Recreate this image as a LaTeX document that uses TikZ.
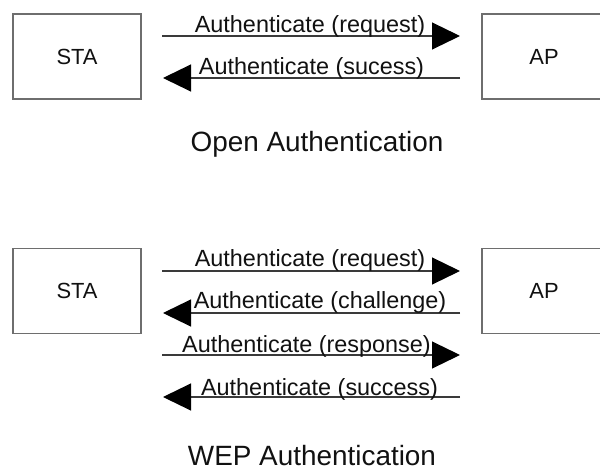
\documentclass[tikz,border=0pt]{standalone}
\usepackage{fontspec}
\setmainfont{Liberation Sans}
\usetikzlibrary{arrows.meta}
\definecolor{boxline}{HTML}{6E6E6E}
\definecolor{msgline}{HTML}{3A3A3A}
\definecolor{ink}{HTML}{111111}
\begin{document}
\begin{tikzpicture}[x=1bp,y=-1bp,
  party/.style={draw=boxline,line width=1.4bp,fill=white,inner sep=0pt,
    minimum height=85bp,text=ink,font=\fontsize{22}{26}\selectfont},
  msg/.style={draw=msgline,line width=1.1bp,
    -{Triangle[length=28bp,width=27bp,color=black]}},
  msglabel/.style={anchor=base,inner sep=0pt,text=ink,
    font=\fontsize{23.5}{28}\selectfont},
  caption/.style={anchor=base,inner sep=0pt,text=ink,
    font=\fontsize{28}{32}\selectfont}]
\useasboundingbox (0,0) rectangle (600,471);

% ---- Open authentication ----
\node[party,minimum width=128bp] (sta1) at (77,56.5) {STA};
\node[party,minimum width=124bp] (ap1) at (544,56.5) {AP};
\coordinate (o1a) at (162,36);  \coordinate (o1b) at (460,36);
\coordinate (o2a) at (460,78);  \coordinate (o2b) at (163,78);
\draw[msg] (o1a) -- (o1b);
\draw[msg] (o2a) -- (o2b);
\node[msglabel] (ol1) at (310,33) {Authenticate (request)};
\node[msglabel] (ol2) at (311.5,75) {Authenticate (sucess)};
\node[caption] (otitle) at (317,152) {Open Authentication};

% ---- WEP authentication ----
\node[party,minimum width=128bp] (sta2) at (77,291) {STA};
\node[party,minimum width=124bp] (ap2) at (544,291) {AP};
\coordinate (w1a) at (162,271); \coordinate (w1b) at (460,271);
\coordinate (w2a) at (460,313); \coordinate (w2b) at (163,313);
\coordinate (w3a) at (162,355); \coordinate (w3b) at (460,355);
\coordinate (w4a) at (460,397); \coordinate (w4b) at (163,397);
\draw[msg] (w1a) -- (w1b);
\draw[msg] (w2a) -- (w2b);
\draw[msg] (w3a) -- (w3b);
\draw[msg] (w4a) -- (w4b);
\node[msglabel] (wl1) at (310,267) {Authenticate (request)};
\node[msglabel] (wl2) at (320,308) {Authenticate (challenge)};
\node[msglabel] (wl3) at (306.5,352) {Authenticate (response)};
\node[msglabel] (wl4) at (319.5,395) {Authenticate (success)};
\node[caption] (wtitle) at (312,465) {WEP Authentication};
\end{tikzpicture}
\end{document}
